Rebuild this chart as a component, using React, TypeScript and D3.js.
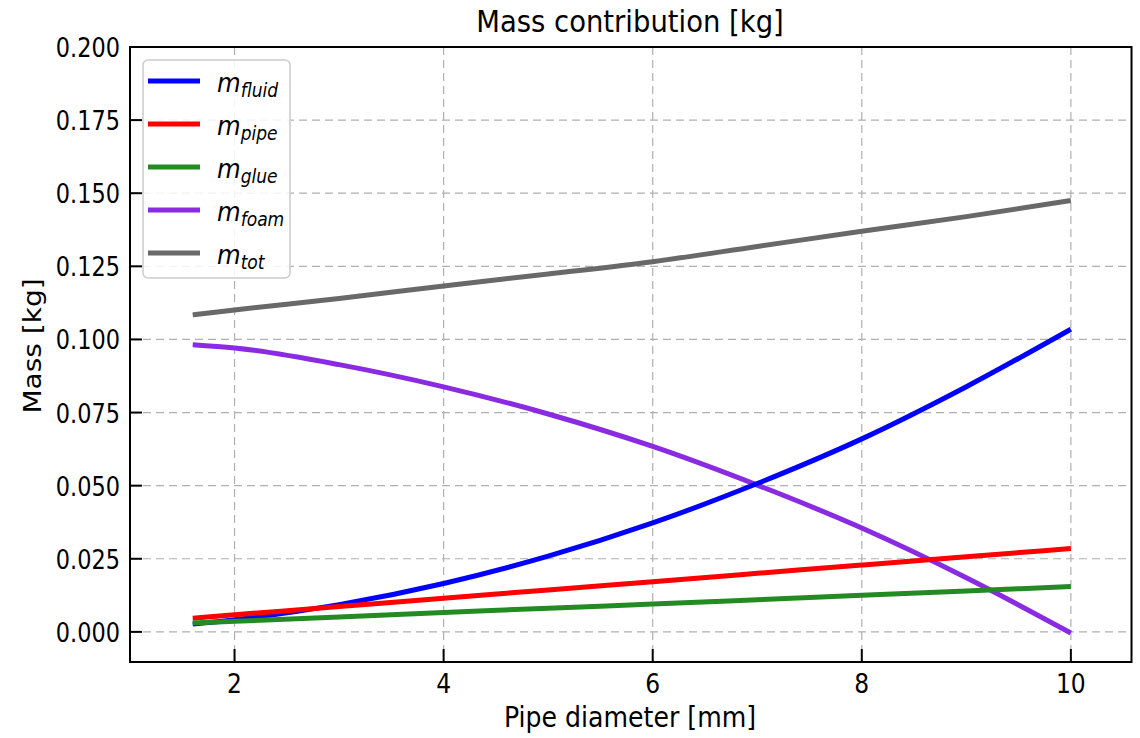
import React from "react";
import * as d3 from "d3";

const diameters = [1.6, 2, 3, 4, 5, 6, 7, 8, 9, 10];
const mFluid = [0.00265, 0.00414, 0.00932, 0.01656, 0.02588, 0.03726, 0.05072, 0.06600, 0.08384, 0.1035];
const mPipe = [0.0047, 0.00583, 0.00867, 0.0115, 0.01435, 0.01718, 0.02002, 0.02286, 0.02569, 0.0285];
const mGlue = [0.003, 0.0036, 0.0051, 0.0066, 0.0081, 0.0095, 0.011, 0.0125, 0.014, 0.0155];
const mFoam = [0.0982, 0.0971, 0.0914, 0.0838, 0.0745, 0.0634, 0.0502, 0.0355, 0.0185, -0.0004];
const mTot = [0.1084, 0.1101, 0.114, 0.1183, 0.1224, 0.1266, 0.1318, 0.137, 0.142, 0.1475];

const xTicks = [2, 4, 6, 8, 10];
const yTicks = [0, 0.025, 0.05, 0.075, 0.1, 0.125, 0.15, 0.175, 0.2];

const series = [
  { sub: "fluid", values: mFluid, color: "#0000ff" },
  { sub: "pipe", values: mPipe, color: "#ff0000" },
  { sub: "glue", values: mGlue, color: "#228b22" },
  { sub: "foam", values: mFoam, color: "#8a2be2" },
  { sub: "tot", values: mTot, color: "#696969" },
];

const FONT = "'DejaVu Sans', sans-serif";
const SX = 0.9;

export default function App() {
  const left = 130, right = 1131.5, top = 47, bottom = 662;
  const x = d3.scaleLinear().domain([1.0, 10.58]).range([left, right]);
  const y = d3.scaleLinear().domain([-0.0103, 0.2]).range([bottom, top]);
  const line = d3
    .line<number>()
    .x((_, i) => x(diameters[i]))
    .y((v) => y(v))
    .curve(d3.curveMonotoneX);

  const drawOrder = [4, 3, 0, 1, 2];

  return (
    <svg
      width={1140}
      height={738}
      style={{ position: "absolute", left: 0, top: 0, background: "#fff" }}
      fontFamily={FONT}
    >
      <rect x={0} y={0} width={1140} height={738} fill="#fff" />
      {xTicks.map((t) => (
        <line key={"gx" + t} x1={x(t)} x2={x(t)} y1={top} y2={bottom} stroke="#b0b0b0" strokeWidth={1.2} strokeDasharray="8,5" />
      ))}
      {yTicks.map((t) => (
        <line key={"gy" + t} x1={left} x2={right} y1={y(t)} y2={y(t)} stroke="#b0b0b0" strokeWidth={1.2} strokeDasharray="8,5" />
      ))}
      {drawOrder.map((i) => (
        <path key={series[i].sub} d={line(series[i].values) || ""} fill="none" stroke={series[i].color} strokeWidth={5} />
      ))}
      <rect x={left} y={top} width={right - left} height={bottom - top} fill="none" stroke="#000" strokeWidth={2} />
      {xTicks.map((t) => (
        <g key={"tx" + t}>
          <line x1={x(t)} x2={x(t)} y1={bottom} y2={bottom - 13} stroke="#000" strokeWidth={2} />
          <text transform={`translate(${x(t)},${bottom + 31}) scale(${SX},1)`} textAnchor="middle" fontSize={26} fill="#000">
            {t}
          </text>
        </g>
      ))}
      {yTicks.map((t) => (
        <g key={"ty" + t}>
          <line x1={left} x2={left + 12} y1={y(t)} y2={y(t)} stroke="#000" strokeWidth={2} />
          <text transform={`translate(${left - 10},${y(t) + 10}) scale(${SX * 0.94},1)`} textAnchor="end" fontSize={26.5} fill="#000">
            {t.toFixed(3)}
          </text>
        </g>
      ))}
      <text transform={`translate(630,32) scale(${SX},1)`} textAnchor="middle" fontSize={30.5} fill="#000">
        Mass contribution [kg]
      </text>
      <text transform={`translate(630,727) scale(${SX},1)`} textAnchor="middle" fontSize={28} fill="#000">
        Pipe diameter [mm]
      </text>
      <text transform={`translate(41,346) rotate(-90) scale(1,${SX})`} textAnchor="middle" fontSize={28} fill="#000">
        Mass [kg]
      </text>
      <rect x={143} y={60} width={147} height={218} rx={5} ry={5} fill="#fff" fillOpacity={0.85} stroke="#cccccc" strokeWidth={1.5} />
      {series.map((s, i) => {
        const cy = 81 + i * 43;
        return (
          <g key={"lg" + s.sub}>
            <line x1={148} x2={200} y1={cy} y2={cy} stroke={s.color} strokeWidth={5} />
            <text transform={`translate(217,${cy + 11}) scale(${SX},1)`} fontSize={27} fill="#000" fontStyle="italic">
              <tspan>m</tspan>
              <tspan fontSize={19} dy={5}>{s.sub}</tspan>
            </text>
          </g>
        );
      })}
    </svg>
  );
}
